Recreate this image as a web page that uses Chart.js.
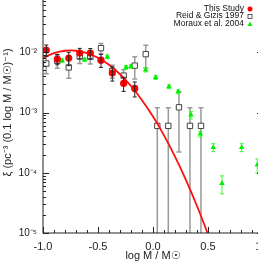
<!DOCTYPE html>
<html>
<head>
<meta charset="utf-8">
<script src="https://cdn.jsdelivr.net/npm/chart.js@4.4.0/dist/chart.umd.min.js"></script>
<style>
  html, body { margin: 0; padding: 0; background: #fff; overflow: hidden; width: 258px; height: 263px; }
  #wrap { position: absolute; left: 0; top: -20px; width: 280px; height: 283px; }
</style>
</head>
<body>
<div id="wrap"><canvas id="imf"></canvas></div>
<script>
// values
const studyX   = [-0.97, -0.87, -0.766, -0.666, -0.57, -0.473, -0.37, -0.267, -0.166];
const studyY   = [0.0109, 0.0077, 0.0080, 0.0097, 0.0097, 0.0074, 0.00452, 0.00304, 0.00251];
const studyErr = [0.0023, 0.0015, 0.0020, 0.0019, 0.0018, 0.0018, 0.0012, 0.0008, 0.0007];

const reidX   = [-0.97, -0.87, -0.766, -0.666, -0.57, -0.473, -0.37, -0.267, -0.166, -0.066, 0.039, 0.139, 0.236, 0.336, 0.436];
const reidY   = [0.0065, 0.0072, 0.0056, 0.0085, 0.0084, 0.0117, 0.0049, 0.0041, 0.0060, 0.0093, 0.0006, 0.0006, 0.00122, 0.0006, 0.0006];
const reidErr = [0.0021, 0.0018, 0.0019, 0.0020, 0.0020, 0.0023, 0.0012, 0.0010, 0.0024, 0.0038, 0.0006, 0.0006, 0.0010, 0.0006, 0.0006];

const morauxX   = [-1.02, -0.825, -0.621, -0.415, -0.245, -0.2, -0.066, 0.024, 0.145, 0.23, 0.345, 0.43, 0.548, 0.627, 0.806, 0.948];
const morauxY   = [0.00445, 0.00723, 0.00751, 0.0084, 0.0056, 0.00582, 0.0051, 0.00382, 0.00268, 0.00221, 0.00091, 0.00044, 0.000264, 0.0000667, 0.000264, 0.000135];
const morauxErr = [0.0003, 0.0005, 0.0005, 0.0006, 0.0004, 0.0004, 0.0004, 0.0003, 0.0002, 0.00017, 0.00013, 0.00005, 0.00004, 0.000022, 0.00004, 0.000035];

// fitted curve
const curveX = [-1.0, -0.9, -0.8, -0.7, -0.6, -0.5, -0.4, -0.3, -0.2, -0.1, 0.0, 0.1, 0.2, 0.3, 0.4, 0.5, 0.6];
const curveY = [0.00809, 0.00968, 0.01059, 0.01059, 0.00968, 0.00809, 0.00618, 0.00431, 0.00275, 0.00160,
                0.000855, 0.000417, 0.000185, 0.0000755, 0.0000281, 0.0000095, 0.00000297];

const xTicks = [-1.0, -0.5, 0.0, 0.5, 1.0];
const yDecades = [-5, -4, -3, -2, -1];
const supers = { '-1': '⁻¹', '-2': '⁻²', '-3': '⁻³', '-4': '⁻⁴', '-5': '⁻⁵' };

const FONT = "'Liberation Sans', Arial, sans-serif";
const pts = (xs, ys) => xs.map((x, i) => ({ x: x, y: ys[i] }));

function drawErrors(chart, xs, ys, errs, color, lw, cap) {
  const ctx = chart.ctx, xs_ = chart.scales.x, ys_ = chart.scales.y, a = chart.chartArea;
  ctx.save();
  ctx.beginPath();
  ctx.rect(a.left, a.top, a.right - a.left, a.bottom - a.top);
  ctx.clip();
  ctx.strokeStyle = color;
  ctx.lineWidth = lw;
  xs.forEach((x, i) => {
    const px = xs_.getPixelForValue(x);
    const hi = ys_.getPixelForValue(ys[i] + errs[i]);
    const lowVal = ys[i] - errs[i];
    const lo = lowVal > 0 ? ys_.getPixelForValue(lowVal) : a.bottom + 2;
    ctx.beginPath();
    ctx.moveTo(px, hi); ctx.lineTo(px, lo);
    ctx.moveTo(px - cap, hi); ctx.lineTo(px + cap, hi);
    if (lowVal > 0) { ctx.moveTo(px - cap, lo); ctx.lineTo(px + cap, lo); }
    ctx.stroke();
  });
  ctx.restore();
}

const framePlugin = {
  id: 'frame',
  beforeDatasetsDraw(chart) {
    drawErrors(chart, reidX, reidY, reidErr, '#9a9a9a', 1.5, 2.5);
    drawErrors(chart, morauxX, morauxY, morauxErr, '#33ff33', 1, 2);
  },
  afterDatasetsDraw(chart) {
    drawErrors(chart, studyX, studyY, studyErr, '#222', 1, 2);
  },
  afterDraw(chart) {
    const ctx = chart.ctx, a = chart.chartArea, sx = chart.scales.x, sy = chart.scales.y;
    ctx.save();
    ctx.strokeStyle = '#222';
    ctx.lineWidth = 1;
    ctx.strokeRect(a.left, a.top, a.right - a.left, a.bottom - a.top);
    ctx.beginPath();
    // x ticks, inward on bottom and top
    for (let k = -10; k <= 10; k++) {
      const v = k / 10;
      const px = Math.round(sx.getPixelForValue(v)) + 0.5;
      const len = (k % 5 === 0) ? 6 : 3;
      ctx.moveTo(px, a.bottom); ctx.lineTo(px, a.bottom - len);
      ctx.moveTo(px, a.top); ctx.lineTo(px, a.top + len);
    }
    // y ticks, inward on left and right
    for (let d = -5; d <= -1; d++) {
      for (let m = 1; m <= 9; m++) {
        if (d === -1 && m > 1) break;
        const py = Math.round(sy.getPixelForValue(m * Math.pow(10, d))) + 0.5;
        const len = (m === 1) ? 6 : 3;
        ctx.moveTo(a.left, py); ctx.lineTo(a.left + len, py);
        ctx.moveTo(a.right, py); ctx.lineTo(a.right - len, py);
      }
    }
    ctx.stroke();

    // legend, text right-aligned with the symbol after it
    const items = [
      { text: 'This Study', y: 28.5, kind: 'dot' },
      { text: 'Reid & Gizis 1997', y: 36, kind: 'sq' },
      { text: 'Moraux et al. 2004', y: 43.5, kind: 'tri' }
    ];
    ctx.font = '8.5px ' + FONT;
    ctx.fillStyle = '#111';
    ctx.textAlign = 'right';
    ctx.textBaseline = 'middle';
    items.forEach(it => {
      ctx.fillStyle = '#111';
      ctx.fillText(it.text, 244, it.y);
      const cx = 250, cy = it.y + 0.5;
      ctx.beginPath();
      if (it.kind === 'dot') {
        ctx.fillStyle = '#ff0000';
        ctx.arc(cx, cy, 2.5, 0, Math.PI * 2);
        ctx.fill();
      } else if (it.kind === 'sq') {
        ctx.strokeStyle = '#333';
        ctx.lineWidth = 0.8;
        ctx.strokeRect(cx - 2, cy - 2, 4, 4);
      } else {
        ctx.fillStyle = '#00ee00';
        ctx.moveTo(cx, cy - 2.5); ctx.lineTo(cx + 2.4, cy + 2); ctx.lineTo(cx - 2.4, cy + 2);
        ctx.closePath();
        ctx.fill();
      }
    });
    ctx.restore();
  }
};

new Chart(document.getElementById('imf'), {
  type: 'scatter',
  data: {
    datasets: [
      {
        label: 'fit',
        data: pts(curveX, curveY),
        showLine: true,
        tension: 0.4,
        borderColor: '#ff1010',
        borderWidth: 1.8,
        pointRadius: 0,
        clip: 0,
        order: 2
      },
      {
        label: 'Reid & Gizis 1997',
        data: pts(reidX, reidY),
        pointStyle: 'rect',
        pointRadius: 3.8,
        backgroundColor: '#ffffff',
        borderColor: '#444',
        borderWidth: 1,
        order: 4
      },
      {
        label: 'Moraux et al. 2004',
        data: pts(morauxX, morauxY),
        pointStyle: 'triangle',
        pointRadius: 3.2,
        backgroundColor: '#00ee00',
        borderColor: '#00ee00',
        borderWidth: 0,
        clip: 0,
        order: 3
      },
      {
        label: 'This Study',
        data: pts(studyX, studyY),
        pointStyle: 'circle',
        pointRadius: 3.6,
        backgroundColor: '#ff0000',
        borderColor: '#ff0000',
        borderWidth: 0,
        order: 1
      }
    ]
  },
  options: {
    responsive: true,
    maintainAspectRatio: false,
    animation: false,
    devicePixelRatio: 1,
    layout: { padding: { top: 11, right: 17, left: 0, bottom: 0 } },
    plugins: { legend: { display: false }, tooltip: { enabled: false } },
    scales: {
      x: {
        type: 'linear',
        min: -1.0,
        max: 1.0,
        afterFit: s => { s.height = 30; },
        afterBuildTicks: s => { s.ticks = xTicks.map(v => ({ value: v })); },
        grid: { display: false, drawTicks: false },
        border: { display: false },
        ticks: {
          padding: 7,
          color: '#222',
          font: { family: FONT, size: 11 },
          maxRotation: 0,
          callback: v => Number(v).toFixed(1)
        },
        title: {
          display: true,
          text: 'log M / M☉',
          color: '#222',
          font: { family: FONT, size: 11 },
          padding: { top: 0, bottom: 0 }
        }
      },
      y: {
        type: 'logarithmic',
        min: 1e-5,
        max: 1e-1,
        afterFit: s => { s.width = 43; },
        afterBuildTicks: s => { s.ticks = yDecades.map(e => ({ value: Math.pow(10, e) })); },
        grid: { display: false, drawTicks: false },
        border: { display: false },
        ticks: {
          padding: 6,
          color: '#222',
          font: { family: FONT, size: 10 },
          callback: v => '10' + supers[String(Math.round(Math.log10(v)))]
        },
        title: {
          display: true,
          text: 'ξ (pc⁻³ (0.1 log M / M☉)⁻¹)',
          color: '#222',
          font: { family: FONT, size: 11 },
          padding: { top: 1, bottom: 0 }
        }
      }
    }
  },
  plugins: [framePlugin]
});
</script>
</body>
</html>
